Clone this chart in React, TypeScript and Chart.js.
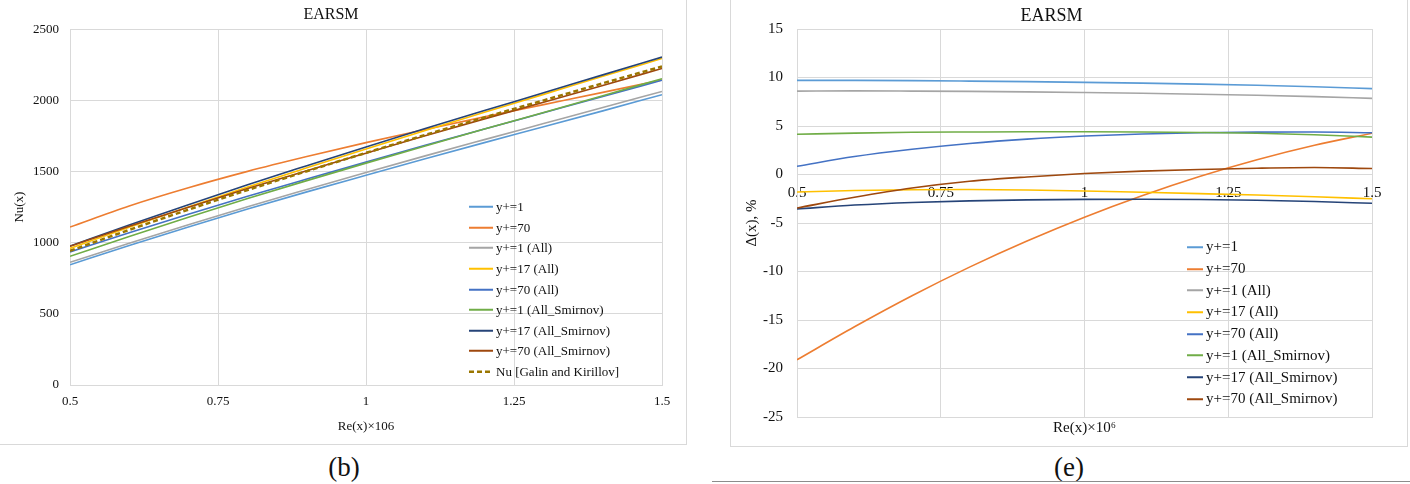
import { useEffect, useRef } from "react"
import { Chart, registerables } from "chart.js"

Chart.register(...registerables)

// Re(x)×10^6 sample positions
const reValues = [0.5, 0.6, 0.7, 0.8, 0.9, 1.0, 1.1, 1.2, 1.3, 1.4, 1.5]
const xTicks = [0.5, 0.75, 1, 1.25, 1.5]
const nuTicks = [0, 500, 1000, 1500, 2000, 2500]
const deltaTicks = [-25, -20, -15, -10, -5, 0, 5, 10, 15]

const seriesNames = [
  "y+=1",
  "y+=70",
  "y+=1 (All)",
  "y+=17 (All)",
  "y+=70 (All)",
  "y+=1 (All_Smirnov)",
  "y+=17 (All_Smirnov)",
  "y+=70 (All_Smirnov)",
]
const seriesColors = ["#5b9bd5", "#ed7d31", "#a5a5a5", "#ffc000", "#4472c4", "#70ad47", "#264478", "#9e480e"]
const refName = "Nu [Galin and Kirillov]"
const refColor = "#9a7600"

// Nu(x), chart (b)
const nuY1 = [845, 980, 1110, 1236, 1357, 1474, 1590, 1703, 1814, 1926, 2040]
const nuY70 = [1110, 1258, 1386, 1501, 1605, 1703, 1795, 1884, 1970, 2056, 2143]
const nuY1All = [862, 996, 1126, 1253, 1374, 1493, 1610, 1724, 1837, 1950, 2062]
const nuY17All = [960, 1108, 1251, 1391, 1526, 1659, 1789, 1917, 2042, 2169, 2294]
const nuY70All = [935, 1070, 1200, 1326, 1447, 1566, 1684, 1799, 1913, 2027, 2142]
const nuY1Sm = [904, 1043, 1178, 1310, 1436, 1559, 1680, 1799, 1915, 2033, 2152]
const nuY17Sm = [976, 1124, 1267, 1407, 1541, 1673, 1802, 1928, 2053, 2179, 2304]
const nuY70Sm = [975, 1116, 1249, 1380, 1506, 1629, 1751, 1870, 1987, 2105, 2224]
const nuRef = [943, 1090, 1232, 1370, 1502, 1631, 1757, 1880, 2000, 2120, 2238]

// Δ(x), %, chart (e)
const dY1 = [9.7, 9.7, 9.68, 9.63, 9.57, 9.5, 9.42, 9.32, 9.2, 9.05, 8.85]
const dY70 = [-19.1, -15.7, -12.5, -9.55, -6.86, -4.4, -2.19, -0.21, 1.52, 3.01, 4.26]
const dY1All = [8.6, 8.62, 8.6, 8.57, 8.52, 8.45, 8.37, 8.28, 8.17, 8.03, 7.85]
const dY17All = [-1.8, -1.65, -1.57, -1.55, -1.6, -1.7, -1.83, -1.97, -2.12, -2.3, -2.5]
const dY70All = [0.85, 1.85, 2.6, 3.2, 3.65, 3.97, 4.18, 4.3, 4.37, 4.38, 4.3]
const dY1Sm = [4.15, 4.27, 4.35, 4.38, 4.4, 4.4, 4.38, 4.33, 4.25, 4.1, 3.85]
const dY17Sm = [-3.55, -3.15, -2.88, -2.72, -2.62, -2.56, -2.55, -2.57, -2.65, -2.78, -2.97]
const dY70Sm = [-3.45, -2.35, -1.4, -0.7, -0.25, 0.1, 0.35, 0.52, 0.65, 0.72, 0.62]

const nuSeries = [nuY1, nuY70, nuY1All, nuY17All, nuY70All, nuY1Sm, nuY17Sm, nuY70Sm]
const deltaSeries = [dY1, dY70, dY1All, dY17All, dY70All, dY1Sm, dY17Sm, dY70Sm]

const FONT = "'Liberation Serif', 'Times New Roman', serif"
const GRID = "#d9d9d9"
const TEXT = "#111"

function lineDataset(label: string, values: number[], color: string, order: number, xAxisID = "x") {
  return {
    label,
    data: reValues.map((x, i) => ({ x, y: values[i] })),
    borderColor: color,
    backgroundColor: color,
    borderWidth: 1.6,
    pointRadius: 0,
    cubicInterpolationMode: "monotone" as const,
    order,
    xAxisID,
  }
}

function setTicks(list: number[]) {
  return (scale: any) => {
    scale.ticks = list.map((value) => ({ value }))
  }
}

const plain = (v: any) => String(v)

function NuChart() {
  const chartRef = useRef<HTMLCanvasElement>(null)
  const chartInstance = useRef<Chart | null>(null)

  useEffect(() => {
    if (!chartRef.current) return
    if (chartInstance.current) chartInstance.current.destroy()

    const datasets: any[] = nuSeries.map((s, i) => lineDataset(seriesNames[i], s, seriesColors[i], 20 - i))
    datasets.push({ ...lineDataset(refName, nuRef, refColor, 1), borderWidth: 2.5, borderDash: [5, 3] })

    chartInstance.current = new Chart(chartRef.current, {
      type: "line",
      data: { datasets },
      options: {
        animation: false,
        responsive: false,
        layout: { padding: { left: 0, right: 25, top: 0, bottom: 0 } },
        plugins: {
          legend: { display: false },
          tooltip: { enabled: false },
          title: {
            display: true,
            text: "EARSM",
            color: TEXT,
            font: { family: FONT, size: 16, weight: "normal", lineHeight: 1.2 },
            padding: { top: 5, bottom: 5 },
          },
        },
        scales: {
          x: {
            type: "linear",
            min: xTicks[0],
            max: xTicks[xTicks.length - 1],
            afterBuildTicks: setTicks(xTicks),
            afterFit: (s: any) => { s.height = 60 },
            grid: { color: GRID, drawTicks: false },
            border: { color: GRID },
            ticks: { color: TEXT, padding: 9, font: { family: FONT, size: 13 }, callback: plain },
            title: {
              display: true,
              text: "Re(x)×106",
              color: TEXT,
              font: { family: FONT, size: 13, lineHeight: 1.2 },
              padding: { top: 0, bottom: 11 },
            },
          },
          y: {
            type: "linear",
            min: nuTicks[0],
            max: nuTicks[nuTicks.length - 1],
            afterBuildTicks: setTicks(nuTicks),
            afterFit: (s: any) => { s.width = 70 },
            grid: { color: GRID, drawTicks: false },
            border: { color: GRID },
            ticks: { color: TEXT, padding: 11, font: { family: FONT, size: 13 }, callback: plain },
            title: {
              display: true,
              text: "Nu(x)",
              color: TEXT,
              font: { family: FONT, size: 13, lineHeight: 1.2 },
              padding: { top: 12, bottom: 0 },
            },
          },
        },
      },
    })

    return () => {
      if (chartInstance.current) chartInstance.current.destroy()
      chartInstance.current = null
    }
  }, [])

  return <canvas ref={chartRef} width={687} height={445} style={{ position: "absolute", left: 0, top: 0 }} />
}

function DeltaChart() {
  const chartRef = useRef<HTMLCanvasElement>(null)
  const chartInstance = useRef<Chart | null>(null)

  useEffect(() => {
    if (!chartRef.current) return
    if (chartInstance.current) chartInstance.current.destroy()

    const datasets = deltaSeries.map((s, i) => lineDataset(seriesNames[i], s, seriesColors[i], 20 - i))

    chartInstance.current = new Chart(chartRef.current, {
      type: "line",
      data: { datasets },
      options: {
        animation: false,
        responsive: false,
        layout: { padding: { left: 0, right: 35, top: 0, bottom: 0 } },
        plugins: {
          legend: { display: false },
          tooltip: { enabled: false },
          title: {
            display: true,
            text: "EARSM",
            color: TEXT,
            font: { family: FONT, size: 18, weight: "normal", lineHeight: 1.2 },
            padding: { top: 5, bottom: 2.4 },
          },
        },
        scales: {
          x: {
            type: "linear",
            min: xTicks[0],
            max: xTicks[xTicks.length - 1],
            afterBuildTicks: setTicks(xTicks),
            afterFit: (s: any) => { s.height = 29 },
            grid: { color: GRID, drawTicks: false },
            border: { color: GRID },
            ticks: { display: false },
            title: {
              display: true,
              text: "Re(x)×10⁶",
              color: TEXT,
              font: { family: FONT, size: 15, lineHeight: 1.2 },
              padding: { top: 0, bottom: 9 },
            },
          },
          x2: {
            type: "linear",
            axis: "x",
            position: { y: 0 },
            min: xTicks[0],
            max: xTicks[xTicks.length - 1],
            afterBuildTicks: setTicks(xTicks),
            grid: { display: false, drawTicks: false },
            border: { display: false },
            ticks: { color: TEXT, padding: 10, font: { family: FONT, size: 15 }, callback: plain },
          },
          y: {
            type: "linear",
            min: deltaTicks[0],
            max: deltaTicks[deltaTicks.length - 1],
            afterBuildTicks: setTicks(deltaTicks),
            afterFit: (s: any) => { s.width = 66 },
            grid: { color: GRID, drawTicks: false },
            border: { color: GRID },
            ticks: { color: TEXT, padding: 14, font: { family: FONT, size: 15 }, callback: plain },
            title: {
              display: true,
              text: "Δ(x), %",
              color: TEXT,
              font: { family: FONT, size: 15, lineHeight: 1.2 },
              padding: { top: 12, bottom: 0 },
            },
          },
        },
      } as any,
    })

    return () => {
      if (chartInstance.current) chartInstance.current.destroy()
      chartInstance.current = null
    }
  }, [])

  return <canvas ref={chartRef} width={676} height={446} style={{ position: "absolute", left: 731, top: 0 }} />
}

function Legend(props: {
  left: number
  top: number
  rowHeight: number
  lineWidth: number
  fontSize: number
  items: { name: string; color: string; dashed?: boolean }[]
}) {
  const { left, top, rowHeight, lineWidth, fontSize, items } = props
  return (
    <div style={{ position: "absolute", left, top, fontFamily: FONT, fontSize, color: TEXT }}>
      {items.map((item, i) => (
        <div
          key={item.name}
          style={{ position: "absolute", top: i * rowHeight, height: rowHeight, display: "flex", alignItems: "center", whiteSpace: "nowrap", transform: "translateY(-50%)" }}
        >
          <svg width={lineWidth + 3} height={6} style={{ flex: "none" }}>
            <line
              x1={0}
              y1={3}
              x2={lineWidth}
              y2={3}
              stroke={item.color}
              strokeWidth={item.dashed ? 2.5 : 2}
              strokeDasharray={item.dashed ? "5 3" : undefined}
            />
          </svg>
          <span>{item.name}</span>
        </div>
      ))}
    </div>
  )
}

export default function App() {
  const leftItems = seriesNames.map((name, i) => ({ name, color: seriesColors[i] }))
  leftItems.push({ name: refName, color: refColor, dashed: true } as any)
  const rightItems = seriesNames.map((name, i) => ({ name, color: seriesColors[i] }))

  return (
    <div style={{ position: "absolute", left: 0, top: 0, width: 1410, height: 484, background: "#fff", overflow: "hidden" }}>
      <div style={{ position: "absolute", left: -1, top: -1, width: 687, height: 445, borderRight: `1px solid ${GRID}`, borderBottom: `1px solid ${GRID}` }} />
      <div style={{ position: "absolute", left: 730, top: -1, width: 676, height: 446, border: `1px solid ${GRID}` }} />
      <NuChart />
      <DeltaChart />
      <Legend left={469} top={207} rowHeight={20.6} lineWidth={24} fontSize={13} items={leftItems} />
      <Legend left={1187} top={247} rowHeight={21.7} lineWidth={16} fontSize={15} items={rightItems} />
      <div style={{ position: "absolute", left: 344, top: 467, transform: "translate(-50%, -50%)", fontFamily: FONT, fontSize: 27, color: TEXT }}>(b)</div>
      <div style={{ position: "absolute", left: 1069, top: 467, transform: "translate(-50%, -50%)", fontFamily: FONT, fontSize: 27, color: TEXT }}>(e)</div>
      <div style={{ position: "absolute", left: 712, top: 481, width: 698, height: 0, borderTop: "1.5px solid #8c8c8c" }} />
    </div>
  )
}
